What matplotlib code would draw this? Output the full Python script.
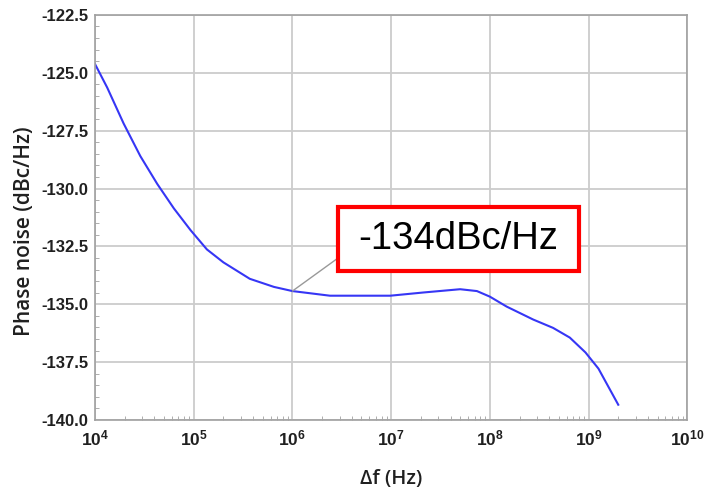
import matplotlib.pyplot as plt
from matplotlib.patches import Rectangle
from matplotlib.ticker import MultipleLocator, LogLocator, FuncFormatter, FixedLocator
import math

plt.rcParams['font.family'] = ['Liberation Sans', 'DejaVu Sans']
plt.rcParams['mathtext.fontset'] = 'custom'
plt.rcParams['mathtext.bf'] = 'Liberation Sans:bold'
plt.rcParams['mathtext.rm'] = 'Liberation Sans'

# datos
freq = [1e4, 1.33e4, 1.95e4, 2.88e4, 4.27e4, 6.3e4, 9.3e4, 1.36e5, 2.0e5, 3.7e5, 6.5e5,
        1e6, 2.4e6, 9.8e6, 2.14e7, 5.0e7, 7.4e7, 1e8, 1.48e8, 2.75e8, 4.37e8, 6.46e8,
        9.3e8, 1.26e9, 2.0e9]
pn = [-124.62, -125.64, -127.19, -128.6, -129.8, -130.86, -131.8, -132.63, -133.19, -133.9, -134.25,
      -134.43, -134.63, -134.63, -134.49, -134.35, -134.43, -134.67, -135.1, -135.66, -136.02, -136.44,
      -137.08, -137.78, -139.34]
xticks = [1e4, 1e5, 1e6, 1e7, 1e8, 1e9, 1e10]
yticks = [-140.0, -137.5, -135.0, -132.5, -130.0, -127.5, -125.0, -122.5]
etiqueta = "-134dBc/Hz"

fig = plt.figure(figsize=(7.11, 4.91), dpi=100)
ax = fig.add_axes([0.1336, 0.1446, 0.833, 0.825])

ax.plot(freq, pn, color="#3636f5", lw=1.5, solid_joinstyle="round")
ax.set_xscale("log")
ax.set_xlim(1e4, 1e10)
ax.set_ylim(-140, -122.5)
ax.xaxis.set_major_locator(FixedLocator(xticks))
ax.set_yticks(yticks)
ax.yaxis.set_minor_locator(MultipleLocator(0.5))
ax.xaxis.set_minor_locator(LogLocator(base=10, subs=range(2, 10), numticks=20))
ax.yaxis.set_major_formatter(FuncFormatter(lambda v, p: f"{v:.1f}"))
ax.xaxis.set_major_formatter(FuncFormatter(lambda v, p: r"$\mathbf{10^{%d}}$" % round(math.log10(v))))

ax.grid(True, which="major", color="#cccccc", lw=1.3)
for s in ax.spines.values():
    s.set_color("#a0a0a0")
    s.set_linewidth(1.2)
ax.tick_params(which="both", direction="in", color="#a0a0a0")
ax.tick_params(which="major", length=0, labelsize=12, labelcolor="#202020")
ax.tick_params(axis="x", which="major", labelsize=12.5, pad=6)
ax.tick_params(axis="y", which="major", pad=5)
ax.tick_params(which="minor", length=3)
for t in ax.get_yticklabels():
    t.set_fontweight("bold")

ax.set_ylabel("Phase noise (dBc/Hz)", fontsize=15, color="#202020",
              family=["Open Sans", "DejaVu Sans"], fontweight="semibold")
ax.yaxis.set_label_coords(-0.101, 0.467)
ax.set_xlabel("Δf (Hz)", fontsize=14.5, color="#202020", labelpad=15,
              family=["Open Sans", "DejaVu Sans"], fontweight="semibold")

# recuadro de la anotacion
ax.add_patch(Rectangle((0.4105, 0.368), 0.407, 0.158, transform=ax.transAxes,
                       fc="white", ec="#ff0000", lw=3, zorder=5))
ax.text(0.614, 0.447, etiqueta, transform=ax.transAxes, fontsize=27.5,
        ha="center", va="center", zorder=6)
ax.annotate("", xy=(1e6, -134.43), xytext=(0.4105, 0.40), textcoords="axes fraction",
            arrowprops=dict(arrowstyle="-", color="#999999", lw=1, shrinkA=0, shrinkB=0),
            zorder=4)

fig.savefig("out.png", dpi=100)
